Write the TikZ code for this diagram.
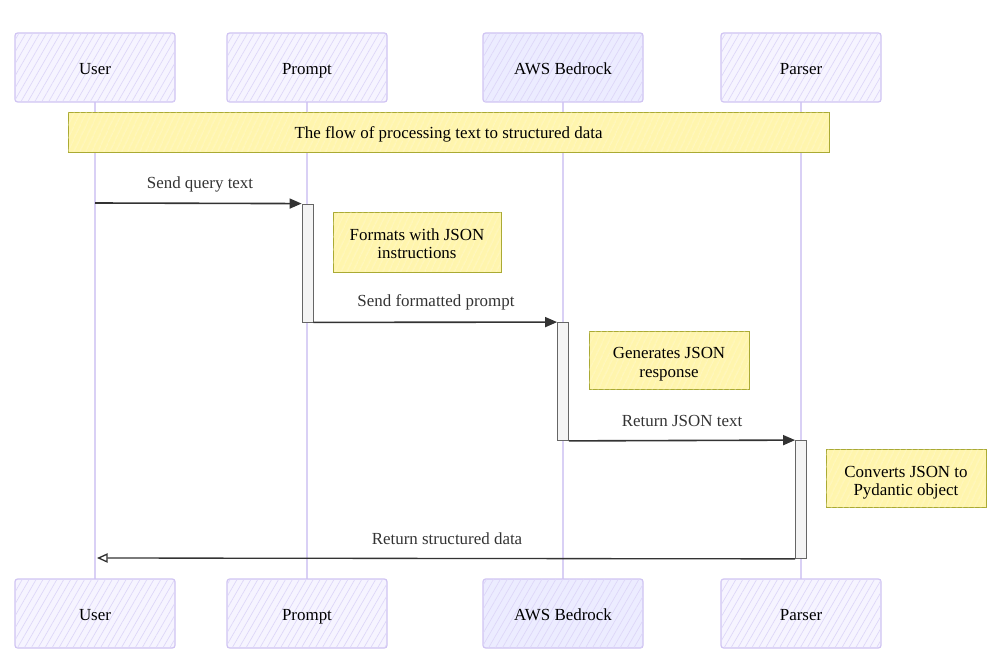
\documentclass[tikz,border=0pt]{standalone}
\usepackage{fontspec}
\setmainfont{Liberation Serif}
\usetikzlibrary{arrows.meta,patterns.meta}

\definecolor{actorline}{HTML}{CFC3F2}
\definecolor{actorfill}{HTML}{F6F4FF}
\definecolor{actorhatch}{HTML}{DDD6F8}
\definecolor{bedrockfill}{HTML}{ECECFF}
\definecolor{lifeline}{HTML}{D9D0F5}
\definecolor{notefill}{HTML}{FFF5AD}
\definecolor{noteline}{HTML}{AAAA33}
\definecolor{barfill}{HTML}{F4F4F4}
\definecolor{barline}{HTML}{666666}
\definecolor{msgcolor}{HTML}{333333}

\tikzset{
    oneline/.style={text height=11.5pt, text depth=1pt},
    actor/.style={draw=actorline, line width=0.9pt, rounded corners=2pt,
        minimum width=120pt, minimum height=51.75pt, fill=actorfill, oneline,
        postaction={pattern={Lines[angle=60,distance=4.5pt,line width=0.5pt]},
        pattern color=actorhatch}},
    lifeline/.style={draw=lifeline, line width=1.4pt},
    note/.style={draw=noteline, line width=0.7pt, fill=notefill, align=center,
        text height=25.5pt, text depth=0pt,
        postaction={pattern={Lines[angle=65,distance=4pt,line width=0.4pt]},
        pattern color=white!60!notefill}},
    actbar/.style={draw=barline, line width=0.6pt, fill=barfill,
        minimum width=8.25pt, minimum height=88.5pt, inner sep=0pt},
    msg/.style={draw=msgcolor, line width=1.2pt,
        -{Triangle[length=9pt,width=7.5pt]}},
    reply/.style={draw=msgcolor, line width=1pt,
        -{Triangle[open,length=8pt,width=7pt]}},
    msglabel/.style={text=msgcolor, oneline}
}

\begin{document}
\begin{tikzpicture}[x=0.75pt, y=-0.75pt, font=\fontsize{12.7}{13.5}\selectfont]
    \useasboundingbox (0,0) rectangle (1002,666);
    % Lifelines and actors
    \foreach \name/\i/\x/\f in {User/1/95/actorfill, Prompt/2/307/actorfill,
                                AWS Bedrock/3/563/bedrockfill, Parser/4/801/actorfill} {
        \coordinate (LTop-\i) at (\x,102);
        \coordinate (LBot-\i) at (\x,579);
        \draw[lifeline] (LTop-\i) -- (LBot-\i);
        \node[actor, fill=\f] (Top-\i) at (\x,67.5) {\name};
        \node[actor, fill=\f] (Bot-\i) at (\x,613.5) {\name};
    }
    % Title note
    \node[note, minimum width=570.75pt, minimum height=30pt, oneline]
        (Title) at (448.5,132) {The flow of processing text to structured data};
    % Activation bars
    \node[actbar] (ActP) at (307.5,263) {};
    \node[actbar] (ActA) at (563,381.5) {};
    \node[actbar] (ActB) at (801,499.5) {};
    % Notes
    \node[note, minimum width=126pt, minimum height=45pt]
        (NoteP) at (417,242) {Formats with JSON\\instructions};
    \node[note, minimum width=120pt, minimum height=43.5pt]
        (NoteA) at (669,360) {Generates JSON\\response};
    \node[note, minimum width=120pt, minimum height=43.5pt]
        (NoteB) at (906,478) {Converts JSON to\\Pydantic object};
    % Messages
    \coordinate (Send) at (95,203);
    \coordinate (Back) at (97,558);
    \draw[msg] (Send) -- (ActP.north west);
    \node[msglabel] (LabelSend) at (200,182) {Send query text};
    \draw[msg] (ActP.south east) -- (ActA.north west);
    \node[msglabel] (LabelFormat) at (436,300) {Send formatted prompt};
    \draw[msg] (ActA.south east) -- (ActB.north west);
    \node[msglabel] (LabelJson) at (682,419) {Return JSON text};
    \draw[reply] (ActB.south west) -- (Back);
    \node[msglabel] (LabelData) at (447,537) {Return structured data};
\end{tikzpicture}
\end{document}
